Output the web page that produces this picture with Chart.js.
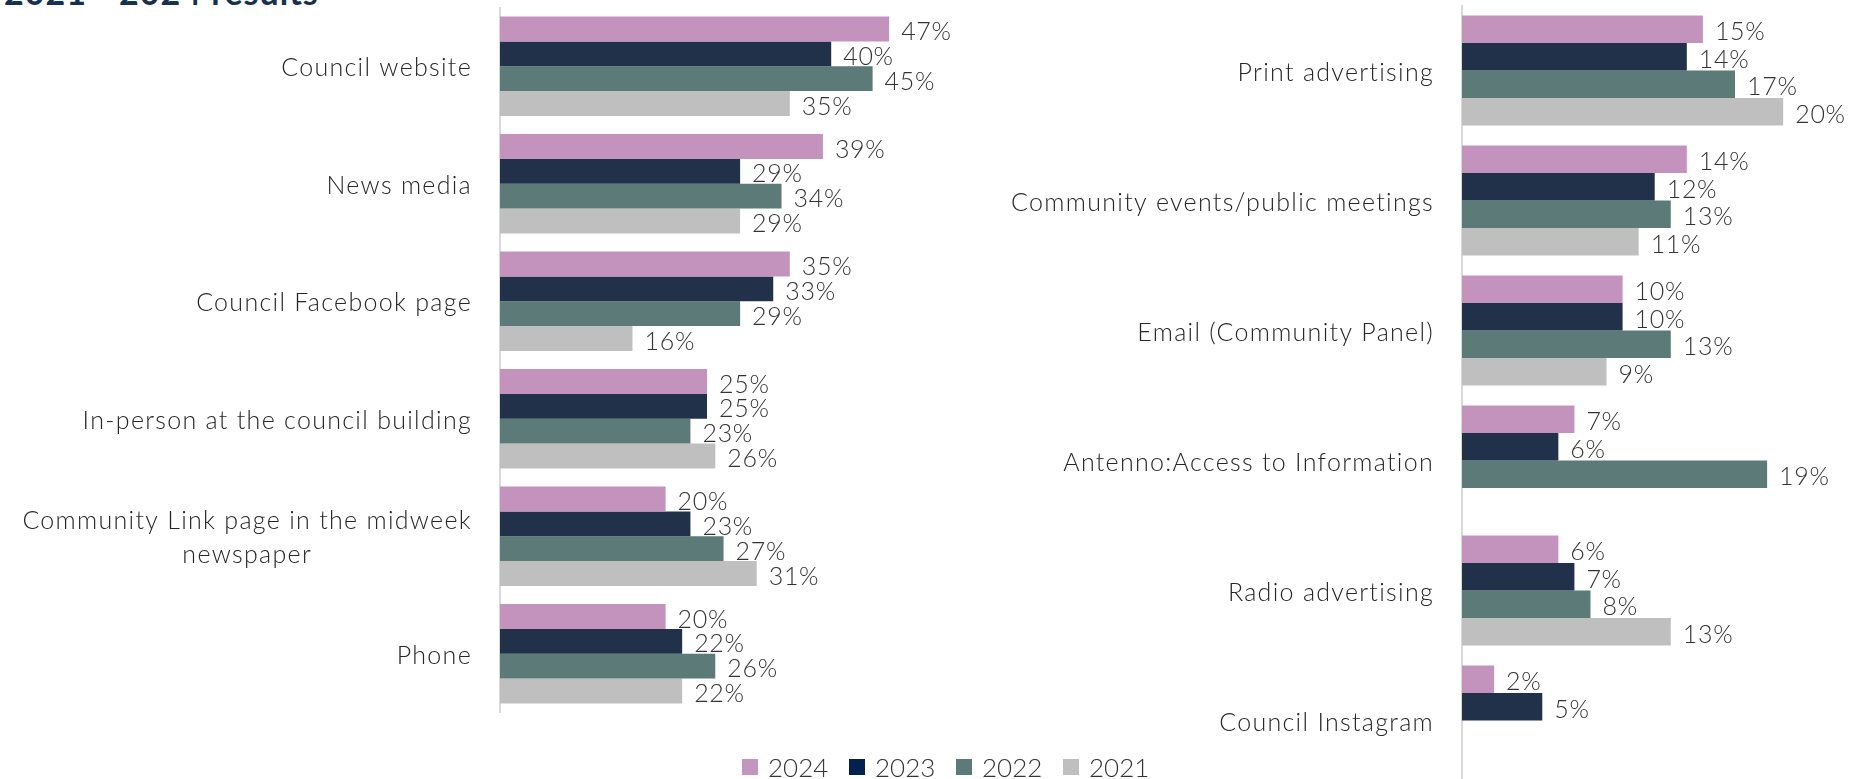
<!DOCTYPE html>
<html>
<head>
<meta charset="utf-8">
<title>How residents find council information, 2021 - 2024</title>
<script src="https://cdn.jsdelivr.net/npm/chart.js@4.4.1/dist/chart.umd.min.js"></script>
<style>
  html, body { margin: 0; padding: 0; background: #fff; overflow: hidden; width: 1865px; height: 779px; }
  body { position: relative; font-family: Lato, "Open Sans", sans-serif; }
  #title { position: absolute; left: 4px; top: -25px; font-size: 34px; line-height: 34px; font-weight: 700; color: #17304f; white-space: nowrap; letter-spacing: 1px; }
  #leftChart { position: absolute; left: 0; top: 0; }
  #rightChart { position: absolute; left: 960px; top: 0; }
  #legend { position: absolute; left: 742px; top: 756px; display: flex; }
  .item { width: 107px; display: flex; align-items: center; font-size: 26px; line-height: 22px; font-weight: 300; color: #333; }
  .box { width: 16px; height: 16px; margin-right: 10px; }
</style>
</head>
<body>
<div id="title">2021 - 2024 results</div>
<canvas id="leftChart" width="960" height="779"></canvas>
<canvas id="rightChart" width="905" height="786"></canvas>
<div id="legend"></div>

<script>
const years = ["2024", "2023", "2022", "2021"];
const barColors = ["#C393BE", "#22314A", "#5B7A78", "#BFBFBF"];
const legendColors = ["#C495C0", "#03204F", "#5B7A78", "#BFBFBF"];

// Channels on the left panel
const leftChannels = [
  "Council website",
  "News media",
  "Council Facebook page",
  "In-person at the council building",
  ["Community Link page in the midweek", "newspaper"],
  "Phone",
];
const left2024 = [47, 39, 35, 25, 20, 20];
const left2023 = [40, 29, 33, 25, 23, 22];
const left2022 = [45, 34, 29, 23, 27, 26];
const left2021 = [35, 29, 16, 26, 31, 22];

// Channels on the right panel (null = not asked that year)
const rightChannels = [
  "Print advertising",
  "Community events/public meetings",
  "Email (Community Panel)",
  "Antenno:Access to Information",
  "Radio advertising",
  "Council Instagram",
];
const right2024 = [15, 14, 10, 7, 6, 2];
const right2023 = [14, 12, 10, 6, 7, 5];
const right2022 = [17, 13, 13, 19, 8, null];
const right2021 = [20, 11, 9, null, 13, null];

const FONT = "300 25px Lato, 'Open Sans', sans-serif";

// Category names, right aligned against the axis; wrapped names are centred line by line
const channelLabels = {
  id: "channelLabels",
  afterDraw(chart) {
    const { ctx, chartArea, scales } = chart;
    const right = chartArea.left - 28;
    ctx.save();
    ctx.font = FONT;
    ctx.letterSpacing = "1.3px";
    ctx.fillStyle = "#262626";
    ctx.textBaseline = "middle";
    ctx.textAlign = "center";
    chart.data.labels.forEach((label, i) => {
      const lines = Array.isArray(label) ? label : [label];
      const widest = Math.max(...lines.map((l) => ctx.measureText(l).width));
      const cx = right - widest / 2;
      const cy = scales.y.getPixelForValue(i) + 2;
      lines.forEach((line, j) => {
        ctx.fillText(line, cx, cy + (j - (lines.length - 1) / 2) * 34);
      });
    });
    ctx.restore();
  },
};

// Percentage at the end of each bar
const valueLabels = {
  id: "valueLabels",
  afterDatasetsDraw(chart) {
    const { ctx } = chart;
    ctx.save();
    ctx.font = FONT;
    ctx.letterSpacing = "0.7px";
    ctx.fillStyle = "#333";
    ctx.textAlign = "left";
    ctx.textBaseline = "middle";
    chart.data.datasets.forEach((ds, i) => {
      chart.getDatasetMeta(i).data.forEach((bar, j) => {
        const v = ds.data[j];
        if (v == null) return;
        ctx.fillText(v + "%", bar.x + 12, bar.y + 3);
      });
    });
    ctx.restore();
  },
};

function makeChart(id, labels, series, max, axisWidth, padding) {
  return new Chart(document.getElementById(id), {
    type: "bar",
    data: {
      labels: labels,
      datasets: series.map((data, i) => ({
        label: years[i],
        data: data,
        backgroundColor: barColors[i],
        borderWidth: 0,
        categoryPercentage: 0.845,
        barPercentage: 1,
      })),
    },
    options: {
      indexAxis: "y",
      responsive: false,
      animation: false,
      layout: { padding: padding },
      plugins: {
        legend: { display: false },
        tooltip: { enabled: false },
      },
      scales: {
        x: { display: false, min: 0, max: max },
        y: {
          grid: { display: false },
          border: { display: true, color: "#D9D9D9", width: 2 },
          ticks: { display: false },
          afterFit: (scale) => {
            scale.width = axisWidth;
          },
        },
      },
    },
    plugins: [channelLabels, valueLabels],
  });
}

makeChart("leftChart", leftChannels, [left2024, left2023, left2022, left2021], 50, 500,
  { top: 7.5, bottom: 66.5, left: 0, right: 46 });
makeChart("rightChart", rightChannels, [right2024, right2023, right2022, right2021], 22, 502,
  { top: 5.5, bottom: 0.5, left: 0, right: 49.7 });

// Shared legend under both panels
const legend = document.getElementById("legend");
years.forEach((year, i) => {
  const item = document.createElement("div");
  item.className = "item";
  item.innerHTML = `<span class="box" style="background:${legendColors[i]}"></span>${year}`;
  legend.appendChild(item);
});
</script>
</body>
</html>
